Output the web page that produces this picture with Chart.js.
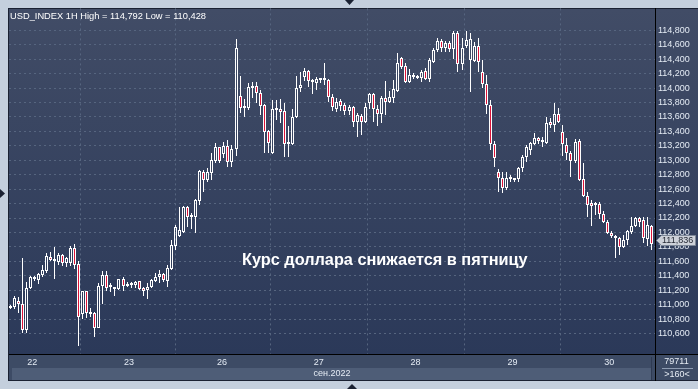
<!DOCTYPE html>
<html><head><meta charset="utf-8">
<script src="https://cdn.jsdelivr.net/npm/chart.js@4.4.0/dist/chart.umd.min.js"></script>
<style>html,body{margin:0;padding:0;background:#c4cfdd;overflow:hidden}</style>
</head><body>
<canvas id="c" width="698" height="389" style="display:block;width:698px;height:389px"></canvas>
<script>
// ---- DATA (USD_INDEX, 1H candles, 21.09 18:00 .. 30.09) ----
const dayNames  = ['22','23','26','27','28','29','30'];
const dayStarts = [6, 30, 53, 77, 101, 125, 149];           // candle index of 00:00 of each day
const monthLabel = 'сен.2022';
const priceTicks = [110.6,110.8,111.0,111.2,111.4,111.6,111.8,112.0,112.2,112.4,112.6,112.8,113.0,113.2,113.4,113.6,113.8,114.0,114.2,114.4,114.6,114.8];

const open = [
110.952,110.966,111.049,111.008,110.648,111.229,111.382,111.340,111.409,111.465,
111.658,111.610,111.589,111.686,111.575,111.575,111.783,111.561,110.869,111.188,
110.897,110.883,110.676,111.257,111.409,111.257,111.216,111.216,111.354,111.257,
111.278,111.271,111.326,111.229,111.202,111.243,111.326,111.382,111.423,111.326,
111.492,111.811,111.949,112.004,112.350,112.212,112.212,112.433,112.835,112.724,
112.821,112.987,113.181,113.084,113.195,112.973,113.153,113.887,113.720,113.720,
113.997,114.025,113.928,113.762,113.402,113.098,113.693,113.707,113.679,113.222,
113.222,113.596,113.997,114.150,114.233,114.108,114.066,114.108,114.108,114.108,
113.873,113.707,113.817,113.762,113.679,113.734,113.527,113.610,113.527,113.790,
113.914,113.707,113.637,113.859,113.804,113.859,113.956,114.412,114.302,114.080,
114.177,114.150,114.136,114.233,114.122,114.357,114.523,114.648,114.551,114.620,
114.537,114.758,114.329,114.579,114.385,114.371,114.579,114.219,114.053,113.762,
113.222,112.835,112.752,112.613,112.738,112.724,112.738,112.890,113.042,113.139,
113.222,113.305,113.278,113.236,113.527,113.485,113.637,113.388,113.208,113.098,
112.987,113.264,112.738,112.503,112.406,112.378,112.392,112.253,112.143,111.990,
111.949,111.921,111.797,111.894,112.004,112.087,112.198,112.170,111.908,112.087];
const high = [
110.994,111.119,111.105,111.644,111.312,111.395,111.395,111.437,111.548,111.714,
111.727,111.797,111.714,111.700,111.658,111.811,111.838,111.603,111.195,111.195,
110.952,110.897,111.299,111.465,111.465,111.299,111.243,111.360,111.382,111.312,
111.312,111.326,111.330,111.243,111.299,111.354,111.437,111.478,111.437,111.548,
111.894,112.101,112.350,112.364,112.364,112.267,112.461,112.862,112.862,112.890,
113.098,113.236,113.185,113.250,113.278,113.208,114.675,114.163,113.845,114.066,
114.080,114.080,113.970,113.776,113.416,113.831,113.831,113.845,113.790,113.471,
113.707,114.163,114.219,114.274,114.246,114.122,114.150,114.136,114.343,114.122,
113.914,113.859,113.845,113.790,113.762,113.748,113.651,113.637,113.790,113.928,
113.928,113.762,113.887,114.094,113.956,114.108,114.482,114.426,114.343,114.260,
114.205,114.177,114.246,114.274,114.412,114.551,114.689,114.675,114.648,114.648,
114.786,114.792,114.689,114.786,114.758,114.634,114.689,114.385,114.177,113.831,
113.264,112.876,112.835,112.835,112.793,112.752,112.904,113.070,113.208,113.250,
113.374,113.319,113.319,113.596,113.582,113.790,113.720,113.485,113.305,113.125,
113.291,113.291,112.959,112.558,112.447,112.420,112.420,112.295,112.170,112.018,
111.963,111.935,111.963,112.032,112.212,112.212,112.212,112.212,112.212,112.101];
const low = [
110.939,110.939,110.883,110.607,110.607,111.216,111.326,111.285,111.382,111.437,
111.603,111.354,111.548,111.534,111.520,111.534,111.492,110.428,110.800,110.814,
110.828,110.551,110.670,111.008,111.188,111.174,111.119,111.202,111.188,111.243,
111.229,111.229,111.202,111.119,111.077,111.229,111.312,111.299,111.312,111.243,
111.478,111.755,111.935,111.990,112.074,112.046,111.990,112.378,112.558,112.696,
112.724,112.959,112.959,113.028,112.904,112.904,113.056,113.651,113.596,113.693,
113.859,113.790,113.624,113.098,113.098,113.084,113.554,113.513,113.042,113.042,
113.208,113.590,113.942,114.094,114.011,113.914,113.970,114.066,114.039,113.804,
113.679,113.665,113.679,113.624,113.624,113.457,113.319,113.347,113.513,113.707,
113.527,113.471,113.513,113.624,113.790,113.790,113.950,114.260,114.066,114.075,
114.122,114.122,114.080,114.108,114.080,114.343,114.496,114.496,114.496,114.496,
114.399,114.219,114.246,114.551,113.942,114.357,114.219,113.997,113.637,113.139,
112.904,112.558,112.544,112.586,112.696,112.696,112.696,112.835,112.973,113.070,
113.208,113.222,113.181,113.222,113.444,113.388,113.513,113.056,113.001,112.766,
112.959,112.710,112.489,112.212,112.087,112.240,112.184,112.129,111.977,111.921,
111.644,111.686,111.783,111.824,111.977,112.074,112.074,111.852,111.811,111.755];
const close = [
110.966,111.091,111.008,110.648,111.229,111.382,111.354,111.423,111.478,111.672,
111.617,111.624,111.686,111.575,111.644,111.783,111.548,110.828,111.188,110.883,
110.876,110.676,111.257,111.409,111.229,111.243,111.229,111.354,111.257,111.285,
111.285,111.312,111.216,111.188,111.243,111.340,111.382,111.423,111.340,111.506,
111.824,112.074,112.032,112.350,112.212,112.226,112.447,112.849,112.724,112.835,
113.001,113.181,112.987,113.195,112.973,113.153,114.551,113.720,113.734,114.011,
114.025,113.928,113.748,113.388,113.236,113.707,113.707,113.672,113.222,113.236,
113.596,113.997,114.039,114.233,114.094,114.080,114.122,114.115,114.122,113.873,
113.734,113.804,113.748,113.679,113.734,113.527,113.624,113.527,113.734,113.914,
113.707,113.637,113.859,113.804,113.873,113.983,114.343,114.288,114.080,114.177,
114.150,114.143,114.219,114.122,114.385,114.523,114.648,114.551,114.620,114.537,
114.758,114.329,114.551,114.662,114.675,114.579,114.357,114.053,113.762,113.222,
113.028,112.752,112.613,112.752,112.752,112.738,112.890,113.042,113.181,113.236,
113.305,113.264,113.250,113.513,113.485,113.637,113.527,113.222,113.098,112.987,
113.250,112.724,112.503,112.378,112.364,112.406,112.253,112.143,111.990,111.949,
111.921,111.797,111.894,112.018,112.087,112.198,112.143,111.921,112.101,111.836];

// hourly category labels (one per candle)
const categories = [];
for (let i = 0; i < open.length; i++) {
  let d = -1; for (let k = 0; k < dayStarts.length; k++) if (i >= dayStarts[k]) d = k;
  categories.push(d < 0 ? ('21.09 ' + (18 + i) + ':00') : (dayNames[d] + '.09 ' + (i - dayStarts[d]) + ':00'));
}

const fmt = v => v.toFixed(3).replace('.', ',');
const BULL_FILL = 'rgba(0,0,0,0)';
const BEAR_FILL = '#dc1439';

const bodies = categories.map((c, i) => ({x: i, y: [open[i], close[i]]}));
const upperW = categories.map((c, i) => ({x: i, y: [Math.max(open[i], close[i]), high[i]]}));
const lowerW = categories.map((c, i) => ({x: i, y: [low[i], Math.min(open[i], close[i])]}));
const bodyColors = categories.map((c, i) => close[i] < open[i] ? BEAR_FILL : BULL_FILL);

// snap bar elements to whole pixels so candles are crisp
const crisp = {
  id: 'crisp',
  afterDatasetsUpdate(chart) {
    chart.data.datasets.forEach((ds, di) => {
      chart.getDatasetMeta(di).data.forEach(el => {
        el.x = Math.floor(el.x) + 0.5;
        el.y = Math.round(el.y);
        el.base = Math.round(el.base);
      });
    });
  }
};

const deco = {
  id: 'deco',
  beforeDraw(chart) {
    const ctx = chart.ctx;
    ctx.save();
    ctx.fillStyle = '#c4cfdd'; ctx.fillRect(0, 0, 698, 389);
    ctx.fillStyle = '#1a2132'; ctx.fillRect(8, 8, 690, 373);
    const g = ctx.createLinearGradient(0, 9, 0, 354);
    g.addColorStop(0, '#414c66'); g.addColorStop(1, '#2b3959');
    ctx.fillStyle = g; ctx.fillRect(9, 9, 689, 345);
    ctx.fillStyle = '#3d4b65'; ctx.fillRect(9, 355, 689, 25);
    ctx.fillStyle = '#4e5d77'; ctx.fillRect(12, 368, 639, 12);
    ctx.fillStyle = '#2e3a52'; ctx.fillRect(651, 357, 1, 23);
    // small arrows on the frame
    ctx.fillStyle = '#1a2132';
    ctx.beginPath(); ctx.moveTo(345, 0); ctx.lineTo(354, 0); ctx.lineTo(349.5, 5); ctx.closePath(); ctx.fill();
    ctx.beginPath(); ctx.moveTo(0, 189); ctx.lineTo(5, 193.5); ctx.lineTo(0, 198); ctx.closePath(); ctx.fill();
    ctx.beginPath(); ctx.moveTo(347, 389); ctx.lineTo(357, 389); ctx.lineTo(352, 384); ctx.closePath(); ctx.fill();
    ctx.restore();
  },
  afterDraw(chart) {
    const ctx = chart.ctx;
    ctx.save();
    // frame lines
    ctx.fillStyle = '#000';
    ctx.fillRect(9, 354, 689, 1);
    ctx.fillRect(655, 8, 1, 373);
    // header
    ctx.fillStyle = '#ffffff';
    ctx.font = '9.3px "Liberation Sans", Arial, sans-serif';
    ctx.textBaseline = 'alphabetic'; ctx.textAlign = 'left';
    ctx.fillText('USD_INDEX 1H High = ' + fmt(Math.max(...high)) + ' Low = ' + fmt(Math.min(...low)), 10, 18.5);
    // caption
    ctx.font = 'bold 16.3px "Liberation Sans", Arial, sans-serif';
    ctx.fillText('Курс доллара снижается в пятницу', 242, 265);
    // right-bottom info box
    ctx.font = '9px "Liberation Sans", Arial, sans-serif';
    ctx.textAlign = 'center'; ctx.textBaseline = 'middle';
    ctx.fillStyle = '#e6ecf4';
    ctx.fillText('79711', 676.5, 362);
    ctx.fillText('>' + open.length + '<', 677, 374.5);
    ctx.fillStyle = '#8e9cb2'; ctx.fillRect(662, 368, 31, 1);
    // last price marker
    const ys = chart.scales.y;
    const last = close[close.length - 1];
    const py = Math.round(ys.getPixelForValue(last)) - 3.5;
    ctx.beginPath();
    ctx.moveTo(656.5, py); ctx.lineTo(661.5, py - 5); ctx.lineTo(695.5, py - 5);
    ctx.lineTo(695.5, py + 5); ctx.lineTo(661.5, py + 5); ctx.closePath();
    ctx.fillStyle = '#cdd1d9'; ctx.fill();
    ctx.strokeStyle = '#7d8797'; ctx.lineWidth = 1; ctx.stroke();
    ctx.fillStyle = '#262b36'; ctx.textAlign = 'left';
    ctx.fillText(fmt(last), 662, py + 0.5);
    ctx.restore();
  }
};

new Chart(document.getElementById('c'), {
  type: 'bar',
  data: {
    labels: categories,
    datasets: [
      {label: 'upper', data: upperW, barThickness: 1, backgroundColor: '#ffffff', borderWidth: 0, grouped: false, order: 2, inflateAmount: 0},
      {label: 'lower', data: lowerW, barThickness: 1, backgroundColor: '#ffffff', borderWidth: 0, grouped: false, order: 2, inflateAmount: 0},
      {label: 'body', data: bodies, barThickness: 3, backgroundColor: bodyColors, borderColor: '#ffffff', borderWidth: 1,
       borderSkipped: false, minBarLength: 2, grouped: false, order: 1, inflateAmount: 0}
    ]
  },
  options: {
    responsive: false, animation: false, events: [],
    layout: {padding: {left: 9, top: 8, right: 0, bottom: 0}},
    plugins: {legend: {display: false}, tooltip: {enabled: false}, title: {display: false}},
    scales: {
      x: {
        type: 'linear', min: -0.25, max: 159.82, offset: false,
        afterBuildTicks: s => { s.ticks = dayStarts.map(v => ({value: v - 0.5})); },
        afterFit: s => { s.height = 35; },
        ticks: {autoSkip: false, maxRotation: 0, padding: 3, color: '#e4ebf4',
                font: {family: '"Liberation Sans", Arial, sans-serif', size: 9},
                callback: (v, i) => dayNames[i]},
        grid: {color: '#56657f', lineWidth: 1, drawTicks: false},
        border: {display: false, dash: [2, 3]},
        title: {display: true, text: monthLabel, color: '#e4ebf4', padding: {top: 0, bottom: 10.5},
                font: {family: '"Liberation Sans", Arial, sans-serif', size: 9}}
      },
      y: {
        position: 'right', min: 110.316, max: 115.104,
        afterBuildTicks: s => { s.ticks = priceTicks.map(v => ({value: v})); },
        afterFit: s => { s.width = 43; },
        ticks: {padding: 3, color: '#e4ebf4', crossAlign: 'near',
                font: {family: '"Liberation Sans", Arial, sans-serif', size: 9},
                callback: v => fmt(v)},
        grid: {color: '#56657f', lineWidth: 1, drawTicks: false},
        border: {display: false, dash: [2, 3]}
      }
    }
  },
  plugins: [crisp, deco]
});
</script>
</body></html>
